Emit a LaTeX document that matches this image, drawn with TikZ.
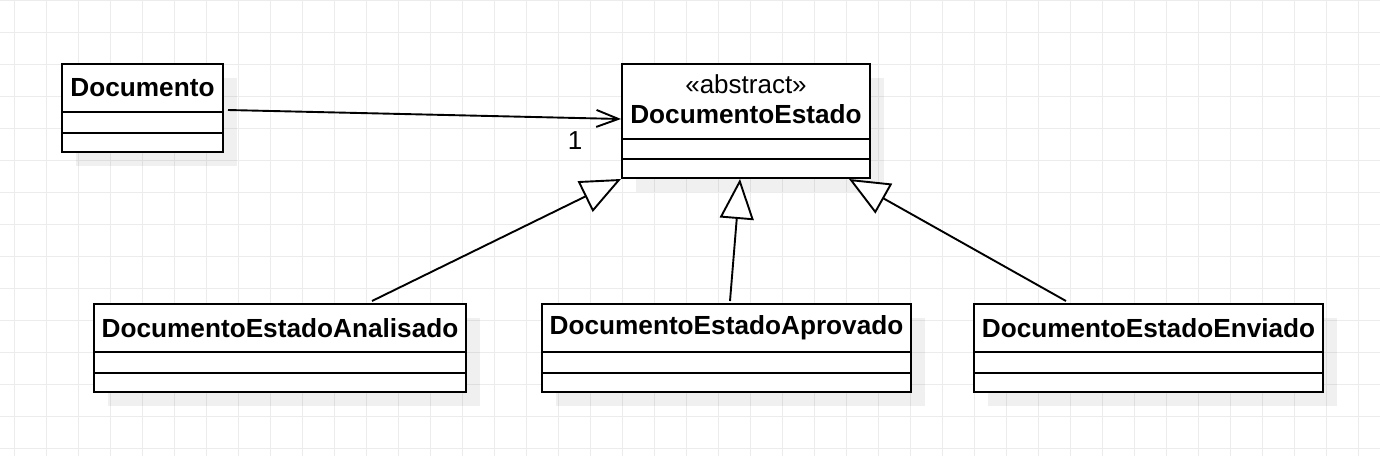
\documentclass[tikz,border=0pt]{standalone}
\usepackage{fontspec}
\setmainfont{Liberation Sans}
\usetikzlibrary{arrows.meta,shadows}
\definecolor{gridgray}{RGB}{236,236,236}
\tikzset{
  classbox/.style={draw,line width=2pt,fill=white,inner sep=0pt,
    drop shadow={shadow xshift=14pt,shadow yshift=-14pt,fill=black,opacity=0.06}},
  classname/.style={font=\fontsize{26.2}{30}\selectfont\bfseries,inner sep=0pt},
  stereo/.style={font=\fontsize{26}{30}\selectfont,inner sep=0pt},
  assoc/.style={line width=1.9pt,-{Straight Barb[length=22pt,width=17pt,line width=1.9pt]}},
  inherit/.style={line width=1.9pt,-{Triangle[open,length=40pt,width=34pt,line width=1.9pt,fill=white]}},
}
\begin{document}
\begin{tikzpicture}[x=1pt,y=-1pt]
\useasboundingbox (0,0) rectangle (1380,456);
\fill[white] (0,0) rectangle (1380,456);
% grid
\foreach \gx in {14,46,...,1390} \draw[gridgray,line width=1pt] (\gx,0) -- (\gx,456);
\foreach \gy in {0,32,...,456} \draw[gridgray,line width=1pt] (0,\gy) -- (1380,\gy);
% classes
\node[classbox,minimum width=161pt,minimum height=88pt] (doc) at (142.5,108) {};
\node[classbox,minimum width=248pt,minimum height=114pt] (estado) at (746,121) {};
\node[classbox,minimum width=372pt,minimum height=88pt] (analisado) at (280,348) {};
\node[classbox,minimum width=369pt,minimum height=88pt] (aprovado) at (726.5,348) {};
\node[classbox,minimum width=349pt,minimum height=88pt] (enviado) at (1148.5,348) {};
% names
\node[classname] (docname) at ([yshift=-25pt]doc.north) {Documento};
\node[stereo] (estadostereo) at ([yshift=-21pt]estado.north) {«abstract»};
\node[classname] (estadoname) at ([yshift=-51.5pt]estado.north) {DocumentoEstado};
\node[classname] (analisadoname) at ([yshift=-25pt]analisado.north) {DocumentoEstadoAnalisado};
\node[classname] (aprovadoname) at ([yshift=-25pt]aprovado.north) {DocumentoEstadoAprovado};
\node[classname] (enviadoname) at ([yshift=-25pt]enviado.north) {DocumentoEstadoEnviado};
% compartments
\foreach \c in {doc,analisado,aprovado,enviado} {
  \draw[line width=2pt] ([yshift=-49pt]\c.north west) -- ([yshift=-49pt]\c.north east);
  \draw[line width=2pt] ([yshift=-70pt]\c.north west) -- ([yshift=-70pt]\c.north east);
}
\draw[line width=2pt] ([yshift=-76pt]estado.north west) -- ([yshift=-76pt]estado.north east);
\draw[line width=2pt] ([yshift=-96pt]estado.north west) -- ([yshift=-96pt]estado.north east);
% association
\draw[assoc] ([shift={(4,2)}]doc.east) -- ([shift={(0,-2)}]estado.west);
\node[stereo] (mult) at ([shift={(-46,20)}]estado.west) {1};
% generalizations
\draw[inherit] ([shift={(92,-2)}]analisado.north) -- (estado.south west);
\draw[inherit] ([shift={(3.5,-2)}]aprovado.north) -- ([shift={(-6,0)}]estado.south);
\draw[inherit] ([shift={(-82.5,-2)}]enviado.north) -- ([shift={(-22,0)}]estado.south east);
\end{tikzpicture}
\end{document}
